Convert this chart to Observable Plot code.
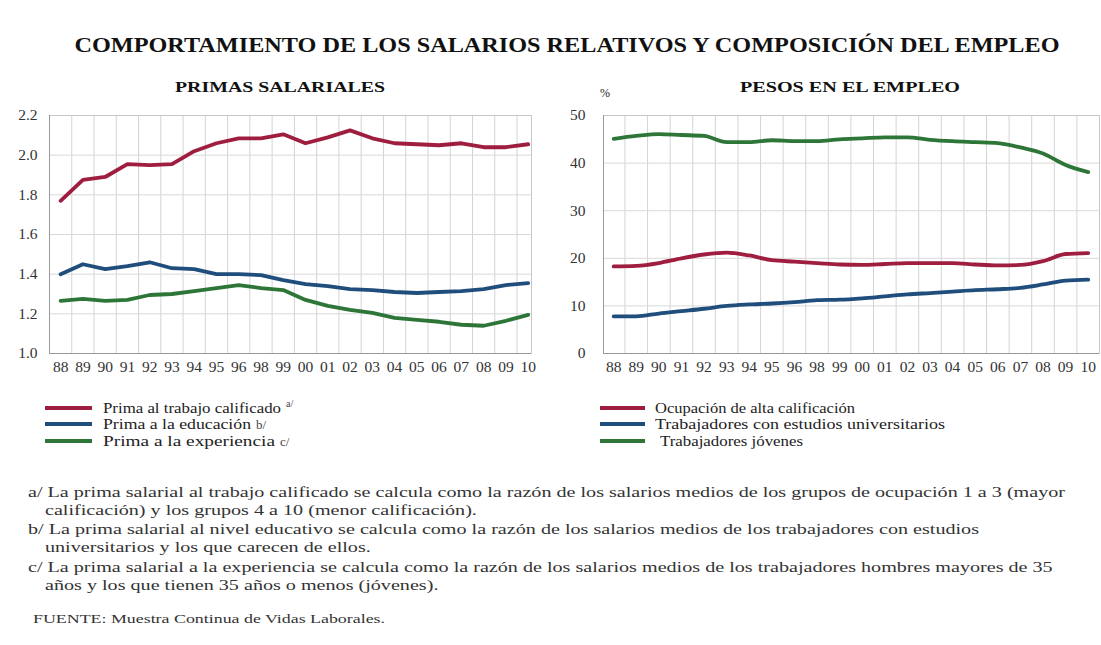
<!DOCTYPE html>
<html><head><meta charset="utf-8">
<script src="https://cdn.jsdelivr.net/npm/d3@7"></script>
<script src="https://cdn.jsdelivr.net/npm/@observablehq/plot@0.6"></script>
<style>
body{margin:0;width:1101px;height:645px;background:#fff;position:relative;overflow:hidden;font-family:"Liberation Serif","Times New Roman",serif;color:#222}
.t{position:absolute;white-space:nowrap;transform-origin:0 50%;line-height:1}
.c{position:absolute;white-space:nowrap;line-height:1;transform:translateX(-50%)}
.b{font-weight:bold;color:#111}
.sw{position:absolute;height:4px}
.plot{position:absolute}
</style></head><body>
<script>
// ---- data ----
const years = ["88","89","90","91","92","93","94","95","96","98","99","00","01","02","03","04","05","06","07","08","09","10"];

const primaTrabajo   = [1.77,1.875,1.89,1.955,1.95,1.955,2.02,2.06,2.085,2.085,2.105,2.06,2.09,2.125,2.085,2.06,2.055,2.05,2.06,2.04,2.04,2.055];
const primaEducacion = [1.40,1.45,1.425,1.44,1.46,1.43,1.425,1.40,1.40,1.395,1.37,1.35,1.34,1.325,1.32,1.31,1.305,1.31,1.315,1.325,1.345,1.355];
const primaExperiencia = [1.265,1.275,1.265,1.27,1.295,1.30,1.315,1.33,1.345,1.33,1.32,1.27,1.24,1.22,1.205,1.18,1.17,1.16,1.145,1.14,1.165,1.195];

const altaCalificacion = [18.3,18.4,19.0,20.0,20.8,21.2,20.6,19.6,19.3,19.0,18.7,18.6,18.8,19.0,19.0,19.0,18.7,18.5,18.6,19.4,20.9,21.1];
const universitarios   = [7.8,7.8,8.4,8.9,9.4,10.0,10.3,10.5,10.8,11.2,11.3,11.6,12.0,12.4,12.7,13.0,13.3,13.5,13.8,14.5,15.3,15.5];
const jovenes          = [45.1,45.7,46.1,45.9,45.7,44.4,44.4,44.8,44.6,44.6,45.0,45.2,45.4,45.4,44.9,44.6,44.4,44.2,43.3,42.0,39.6,38.1];

const leftNames  = ["Prima al trabajo calificado","Prima a la educación","Prima a la experiencia"];
const rightNames = ["Ocupación de alta calificación","Trabajadores con estudios universitarios","Trabajadores jóvenes"];
const leftTicks  = [1.0,1.2,1.4,1.6,1.8,2.0,2.2];
const rightTicks = [0,10,20,30,40,50];

const title = "COMPORTAMIENTO DE LOS SALARIOS RELATIVOS Y COMPOSICIÓN DEL EMPLEO";
const leftTitle = "PRIMAS SALARIALES";
const rightTitle = "PESOS EN EL EMPLEO";
const notes = [
  "a/ La prima salarial al trabajo calificado se calcula como la razón de los salarios medios de los grupos de ocupación 1 a 3 (mayor",
  "calificación) y los grupos 4 a 10 (menor calificación).",
  "b/ La prima salarial al nivel educativo se calcula como la razón de los salarios medios de los trabajadores con estudios",
  "universitarios y los que carecen de ellos.",
  "c/ La prima salarial a la experiencia se calcula como  la razón de los salarios medios de los trabajadores hombres mayores de 35",
  "años y los que tienen 35 años o menos (jóvenes)."
];
const source = "FUENTE: Muestra Continua de Vidas Laborales.";

const colors = ["#9f1d3f","#1f4e7c","#2e7638"];

function tidy(names, arrays){
  const out = [];
  arrays.forEach((arr,k)=>arr.forEach((v,i)=>out.push({i, v, s:names[k]})));
  return out;
}

function panel({names, arrays, ticks, fmt, yDomain, xDomain, width, marginLeft, marginRight, tickPad, curve}){
  const data = tidy(names, arrays);
  const grid = d3.range(years.length).map(i=>i-0.5);
  return Plot.plot({
    width, height:283,
    marginLeft, marginRight, marginTop:15, marginBottom:30,
    style:{fontFamily:'"Liberation Serif","Times New Roman",serif', fontSize:"15.5px", color:"#333", background:"transparent"},
    x:{domain:xDomain, label:null},
    y:{domain:yDomain, label:null},
    color:{domain:names, range:colors},
    marks:[
      Plot.ruleX(grid.slice(1), {stroke:"#d4d4d4", strokeWidth:1}),
      Plot.ruleY(ticks, {stroke:"#d9d9d9", strokeWidth:1}),
      Plot.frame({stroke:"#c8c8c8"}),
      Plot.axisX({ticks:d3.range(years.length), tickFormat:i=>years[i], tickSize:0, tickPadding:7, fill:"#333"}),
      Plot.axisY({ticks, tickFormat:fmt, tickSize:0, tickPadding:tickPad, fill:"#333"}),
      Plot.ruleX([xDomain[0]], {stroke:"#999"}),
      Plot.ruleY([yDomain[0]], {stroke:"#999"}),
      Plot.line(data, {x:"i", y:"v", z:"s", stroke:"s", strokeWidth:3.8, curve, strokeLinejoin:"round", strokeLinecap:"round"})
    ]
  });
}

function addText(txt, cls, left, top, size, bold, fitW){
  const d = document.createElement("div");
  d.className = cls + (bold?" b":"");
  d.textContent = txt;
  d.style.left = left+"px";
  d.style.top = (top - size*0.5)+"px";
  d.style.fontSize = size+"px";
  document.body.appendChild(d);
  if (fitW){
    const w = d.getBoundingClientRect().width;
    d.style.transform = (cls==="c"?"translateX(-50%) ":"") + `scaleX(${fitW/w})`;
    if (cls==="c") d.style.transformOrigin = "50% 50%";
  }
  return d;
}

// titles
addText(title, "c", 567, 45, 20, true, 985);
addText(leftTitle, "c", 280, 87, 15, true, 210);
addText(rightTitle, "c", 850, 87, 15, true, 220);
addText("%", "t", 600, 93, 12, false);

// plots
const p1 = panel({names:leftNames, arrays:[primaTrabajo,primaEducacion,primaExperiencia], ticks:leftTicks, fmt:d3.format(".1f"),
  yDomain:[1.0,2.2], xDomain:[-0.5,21.15], width:541, marginLeft:49, marginRight:10, tickPad:12, curve:"linear"});
p1.classList.add("plot"); p1.style.left="0px"; p1.style.top="100px";
document.body.appendChild(p1);

const p2 = panel({names:rightNames, arrays:[altaCalificacion,universitarios,jovenes], ticks:rightTicks, fmt:d3.format("d"),
  yDomain:[0,50], xDomain:[-0.45,21.5], width:556, marginLeft:58, marginRight:2, tickPad:18, curve:"monotone-x"});
p2.classList.add("plot"); p2.style.left="545px"; p2.style.top="100px";
document.body.appendChild(p2);

// legends
const legY = [408,424,441];
const legLeftSup = ["a/","b/","c/"];
const legLeftW = [178,148,172];
leftNames.forEach((n,k)=>{
  const y = legY[k];
  const s = document.createElement("div"); s.className="sw";
  s.style.left="45px"; s.style.width="47px"; s.style.top=(y-2)+"px"; s.style.background=colors[k];
  document.body.appendChild(s);
  const d = addText(n, "t", 103, y, 14.5, false, legLeftW[k]);
  const sup = addText(legLeftSup[k], "t", 103 + legLeftW[k] + 5, k===0 ? y-4 : y, k===0?10:13, false);
  sup.style.color="#444";
});
const legRightW = [200,290,143];
rightNames.forEach((n,k)=>{
  const y = legY[k];
  const s = document.createElement("div"); s.className="sw";
  s.style.left="600px"; s.style.width="45px"; s.style.top=(y-2)+"px"; s.style.background=colors[k];
  document.body.appendChild(s);
  addText(n, "t", k===2?660:655, y, 14.5, false, legRightW[k]);
});

// footnotes
const noteY = [492,510,529,547,567,585];
const noteX = [28,45,28,45,28,45];
const f0 = addText(notes[0], "t", noteX[0], noteY[0], 15, false);
const scale = 1037 / f0.getBoundingClientRect().width;
notes.forEach((n,k)=>{
  const d = k===0 ? f0 : addText(n, "t", noteX[k], noteY[k], 15, false);
  d.style.transform = `scaleX(${scale})`;
  d.style.color = "#333";
});
const fs = addText(source, "t", 33, 618, 13, false, 352);
fs.style.color="#333";
</script>
</body></html>
